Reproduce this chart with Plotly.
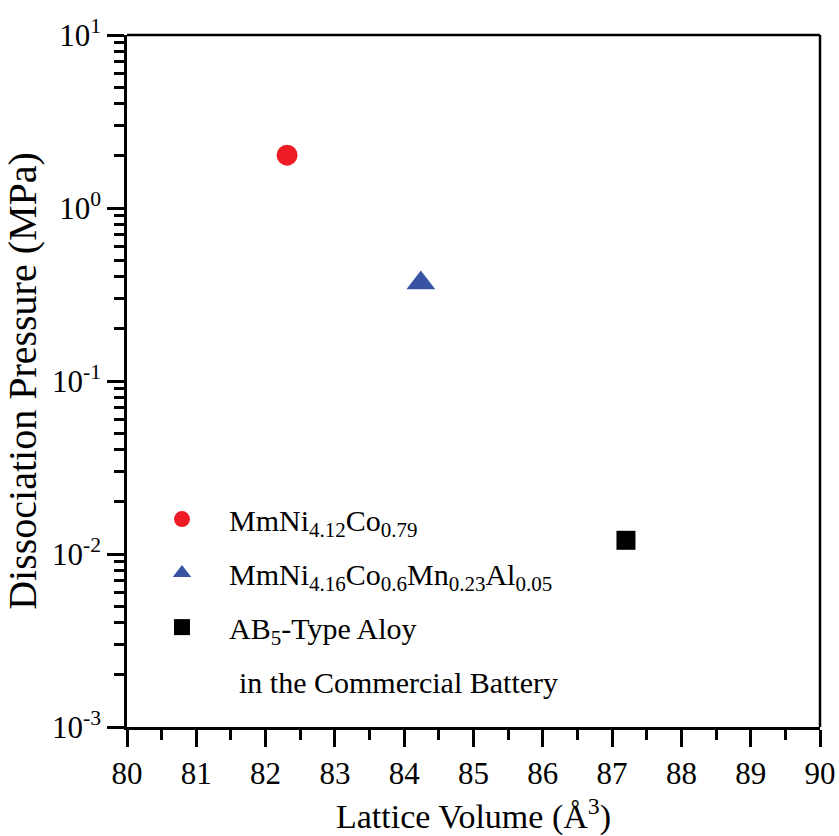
import plotly.graph_objects as go

# Alloy samples: lattice volume (Å^3) vs. hydrogen dissociation pressure (MPa)
names = [
    "MmNi<sub>4.12</sub>Co<sub>0.79</sub>",
    "MmNi<sub>4.16</sub>Co<sub>0.6</sub>Mn<sub>0.23</sub>Al<sub>0.05</sub>",
    "AB<sub>5</sub>-Type Aloy",
]
lattice_volume = [82.31, 84.24, 87.2]
pressure = [2.02, 0.368, 0.0120]
symbols = ["circle", "triangle-up", "square"]
colors = ["#ED1C24", "#3953A4", "#000000"]
sizes = [21, 25, 19]

x_ticks = list(range(80, 91))
y_tickvals = [1e-3, 1e-2, 1e-1, 1e0, 1e1]
y_ticktext = ["10<sup>-3</sup>", "10<sup>-2</sup>", "10<sup>-1</sup>", "10<sup>0</sup>", "10<sup>1</sup>"]
# minor ticks at 2..9 within each decade
y_minor = [m * d for d in y_tickvals[:-1] for m in range(2, 10)]

FONT = "Liberation Serif"

fig = go.Figure()
for i in range(len(names)):
    fig.add_trace(go.Scatter(
        x=[lattice_volume[i]], y=[pressure[i]],
        mode="markers", name=names[i], legendgroup=str(i),
        marker=dict(symbol=symbols[i], color=colors[i], size=sizes[i], line=dict(width=0)),
    ))

fig.add_annotation(
    text="in the Commercial Battery", xref="paper", yref="paper",
    x=0.159, y=0.065, xanchor="left", yanchor="middle", showarrow=False,
    font=dict(family=FONT, size=30, color="black"),
)

axis_common = dict(
    showline=True, linecolor="black", linewidth=2.5, mirror=False,
    ticks="outside", ticklen=17, tickwidth=2.5, tickcolor="black",
    showgrid=False, zeroline=False, automargin=False,
    tickfont=dict(family=FONT, size=31, color="black"),
)

fig.update_layout(
    width=839, height=836,
    margin=dict(l=127, r=19, t=35, b=109),
    paper_bgcolor="white", plot_bgcolor="white",
    font=dict(family=FONT, color="black"),
    showlegend=True,
    legend=dict(
        x=0.0115, y=0.338, xanchor="left", yanchor="top",
        font=dict(family=FONT, size=30, color="black"),
        bgcolor="rgba(0,0,0,0)", tracegroupgap=12,
        itemwidth=84, traceorder="grouped",
    ),
    xaxis=dict(
        range=[80, 90], tickvals=x_ticks,
        minor=dict(ticks="outside", ticklen=10, tickwidth=2.5, tickcolor="black", dtick=0.5),
        title=dict(text="Lattice Volume (Å<sup>3</sup>)", font=dict(family=FONT, size=34), standoff=16),
        **axis_common,
    ),
    yaxis=dict(
        type="log", range=[-3, 1], tickvals=y_tickvals, ticktext=y_ticktext,
        minor=dict(ticks="outside", ticklen=10, tickwidth=2.5, tickcolor="black",
                   tickmode="array", tickvals=y_minor),
        title=dict(text="Dissociation Pressure (MPa)", font=dict(family=FONT, size=40), standoff=3),
        **axis_common,
    ),
)

# top and right frame lines without ticks
fig.add_shape(type="line", xref="paper", yref="paper", x0=0, x1=1, y0=1, y1=1,
              line=dict(color="black", width=2.5))
fig.add_shape(type="line", xref="paper", yref="paper", x0=1, x1=1, y0=0, y1=1,
              line=dict(color="black", width=2.5))

fig.write_html("out.html")
